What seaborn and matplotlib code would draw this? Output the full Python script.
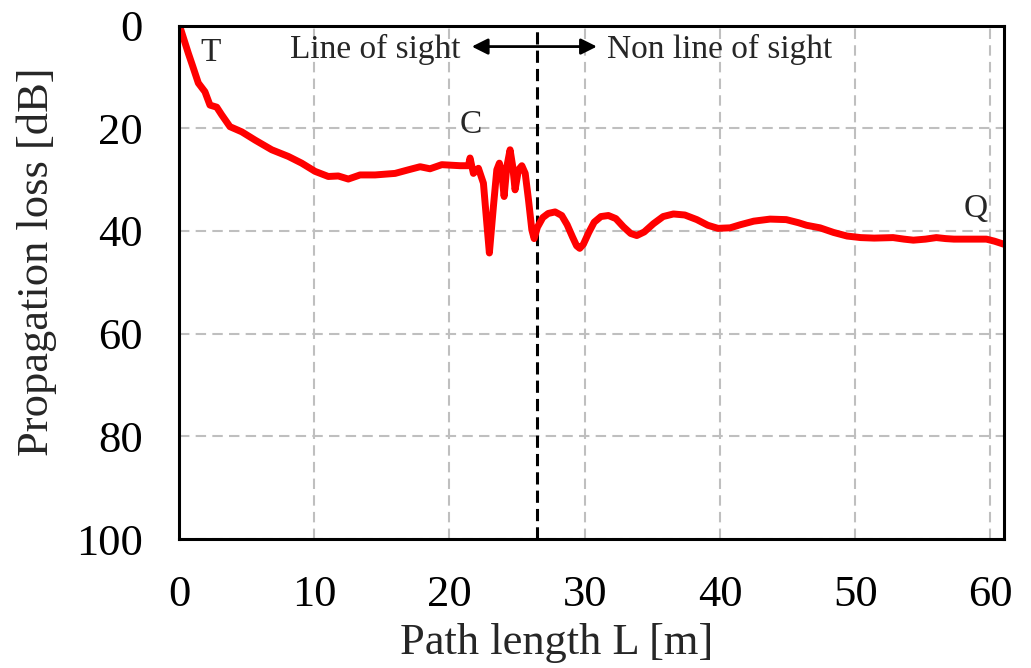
import matplotlib
matplotlib.use('Agg')
import matplotlib.pyplot as plt
import seaborn as sns

# 曲线数据
path_length = [0.0, 0.1, 0.4, 0.69, 1.0, 1.43, 1.92, 2.29, 2.79, 3.16, 3.77, 4.64, 5.62,
               6.86, 8.09, 9.07, 10.06, 11.04, 11.78, 12.52, 13.39, 14.5, 15.98, 16.96,
               17.83, 18.56, 19.43, 20.78, 21.4, 21.52, 21.77, 22.14, 22.51, 22.76, 22.95,
               23.25, 23.5, 23.69, 23.87, 24.04, 24.24, 24.48, 24.68, 24.85, 25.1, 25.35,
               25.6, 25.84, 26.09, 26.26, 26.5, 26.9, 27.3, 27.81, 28.3, 28.7, 29.1,
               29.4, 29.63, 29.9, 30.3, 30.7, 31.2, 31.75, 32.3, 32.86, 33.4, 33.85,
               34.4, 35.08, 35.8, 36.56, 37.4, 38.29, 39.1, 39.85, 40.75, 41.5, 42.5,
               43.7, 44.9, 45.8, 46.4, 47.4, 48.4, 49.4, 50.4, 51.4, 52.8, 53.6, 54.3,
               55.2, 56.0, 56.7, 57.3, 58.5, 59.7, 60.3, 61.0]
loss_db = [0.0, 0.5, 3.0, 5.4, 7.8, 11.2, 12.9, 15.5, 15.9, 17.4, 19.7, 20.7, 22.3,
           24.2, 25.5, 26.8, 28.4, 29.4, 29.3, 29.9, 29.1, 29.1, 28.8, 28.1,
           27.5, 27.9, 27.1, 27.3, 27.3, 25.8, 28.8, 27.8, 30.7, 38.5, 44.3,
           35.2, 28.1, 26.8, 28.8, 33.3, 27.5, 24.2, 27.5, 32.0, 28.1, 27.3,
           28.8, 33.9, 39.8, 41.5, 39.3, 37.4, 36.6, 36.3, 37.0, 38.8, 41.2,
           42.9, 43.4, 42.6, 40.3, 38.3, 37.2, 37.0, 37.6, 39.2, 40.5, 40.9,
           40.2, 38.6, 37.2, 36.7, 36.9, 37.8, 38.9, 39.5, 39.4, 38.8, 38.1,
           37.7, 37.8, 38.4, 38.9, 39.4, 40.3, 41.0, 41.3, 41.4, 41.3, 41.6, 41.8,
           41.6, 41.3, 41.5, 41.6, 41.6, 41.6, 42.0, 42.6]

x_ticks = [0, 10, 20, 30, 40, 50, 60]
y_ticks = [0, 20, 40, 60, 80, 100]
los_boundary = 26.45

sns.set_style('white')
plt.rcParams['font.family'] = ['Liberation Serif', 'DejaVu Serif']

fig = plt.figure(figsize=(10.31, 6.68), dpi=100)
ax = fig.add_axes([0.1736, 0.1931, 0.8002, 0.7687])

sns.lineplot(x=path_length, y=loss_db, ax=ax, color='#FF0000', linewidth=5,
             estimator=None, sort=False, zorder=5, solid_joinstyle='round',
             solid_capstyle='round')

ax.set_xlim(0, 61)
ax.set_ylim(100, 0)
ax.set_xticks(x_ticks)
ax.set_yticks(y_ticks)

# 网格线
ax.grid(True, color='#BFBFBF', linestyle=(0, (5, 3)), linewidth=1.5)
ax.set_axisbelow(True)

for s in ax.spines.values():
    s.set_color('black')
    s.set_linewidth(2.2)
    s.set_zorder(6)

ax.tick_params(direction='in', length=6, width=1, colors='black', labelsize=32, pad=26)

ax.set_xlabel('Path length L [m]', fontsize=32)
ax.set_ylabel('Propagation loss [dB]', fontsize=32)
ax.xaxis.set_label_coords(0.458, -0.163)
ax.yaxis.set_label_coords(-0.148, 0.54)

# 视距分界线
ax.axvline(los_boundary, color='black', linewidth=2.2, linestyle=(0, (4, 2)), zorder=4)
ax.annotate('', xy=(21.65, 4.1), xytext=(30.9, 4.1),
            arrowprops=dict(arrowstyle='<|-|>', color='black', lw=2, mutation_scale=24,
                            shrinkA=0, shrinkB=0))

ax.text(20.8, 6.4, 'Line of sight', fontsize=24, ha='right', va='baseline')
ax.text(31.65, 6.4, 'Non line of sight', fontsize=24, ha='left', va='baseline')
ax.text(1.55, 6.85, 'T', fontsize=24, ha='left', va='baseline')
ax.text(20.73, 20.85, 'C', fontsize=24, ha='left', va='baseline')
ax.text(58.0, 37.3, 'Q', fontsize=24, ha='left', va='baseline')

plt.savefig('out.png', dpi=100)
